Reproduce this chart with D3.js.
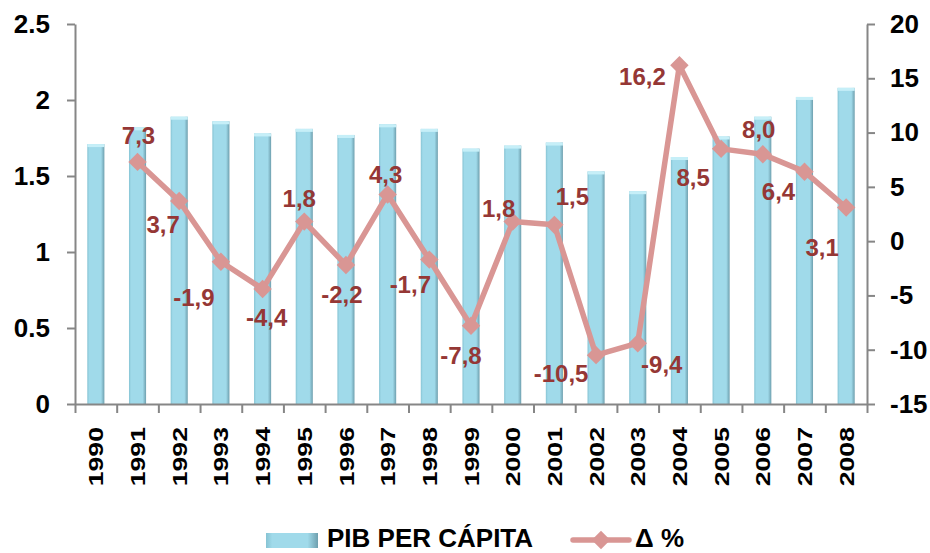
<!DOCTYPE html>
<html>
<head>
<meta charset="utf-8">
<script src="https://cdn.jsdelivr.net/npm/d3@7"></script>
<style>
  body { margin: 0; background: #fff; }
  text { font-family: "Liberation Sans", Arial, sans-serif; font-weight: bold; }
</style>
</head>
<body>
<div id="container"></div>
<script>
const years = ["1990","1991","1992","1993","1994","1995","1996","1997","1998","1999",
               "2000","2001","2002","2003","2004","2005","2006","2007","2008"]
const pibPerCapita = [1.71,1.82,1.89,1.86,1.78,1.81,1.77,1.84,1.81,1.68,
                      1.70,1.72,1.53,1.40,1.625,1.76,1.89,2.02,2.08]
// variación anual (%), 1990 sin dato
const deltaPct = [null,7.3,3.7,-1.9,-4.4,1.8,-2.2,4.3,-1.7,-7.8,
                  1.8,1.5,-10.5,-9.4,16.2,8.5,8.0,6.4,3.1]
const leftTicks = [0,0.5,1,1.5,2,2.5]
const rightTicks = [-15,-10,-5,0,5,10,15,20]

// where each data label sits relative to its point
const labelOffsets = [null,[1,-27],[-16,23],[-27,36],[4,28],[-5,-23],[-4,29],[-2,-20],[-19,25],[-10,30],
                      [-14,-13],[18,-28],[-35,18],[24,21],[-37,11],[-28,29],[-4,-25],[-26,20],[-24,40]]

const width = 930
const height = 553
const marginLeft = 75
const marginRight = 63
const marginTop = 24
const bottomY = 404

const axisColor = "#868686"
const lineColor = "#D99694"
const labelColor = "#953735"

const hyphen = s => String(s).replace(/\u2212/g, "-")

const svg = d3.create("svg")
    .attr("width", width)
    .attr("height", height)

const defs = svg.append("defs")
const grad = defs.append("linearGradient").attr("id", "barGrad")
    .attr("x1", 0).attr("x2", 1).attr("y1", 0).attr("y2", 0)
grad.append("stop").attr("offset", "0%").attr("stop-color", "#86C3D3")
grad.append("stop").attr("offset", "12%").attr("stop-color", "#A0DAEA")
grad.append("stop").attr("offset", "80%").attr("stop-color", "#A0DAEA")
grad.append("stop").attr("offset", "100%").attr("stop-color", "#6E9FAE")

const x = d3.scaleBand()
    .domain(years)
    .range([marginLeft, width - marginRight])
const xEdge = d3.scaleLinear()
    .domain([0, years.length])
    .range([marginLeft, width - marginRight])

const yL = d3.scaleLinear().domain([0, 2.5]).range([bottomY, marginTop])
const yR = d3.scaleLinear().domain([-15, 20]).range([bottomY, marginTop])

const barW = x.bandwidth() * 0.41

// bars
const bars = svg.append("g")
bars.selectAll("rect.bar")
    .data(years)
    .enter().append("rect")
    .attr("class", "bar")
    .attr("x", d => x(d) + x.bandwidth() / 2 - barW / 2)
    .attr("y", (d, i) => yL(pibPerCapita[i]))
    .attr("width", barW)
    .attr("height", (d, i) => bottomY - yL(pibPerCapita[i]))
    .attr("fill", "url(#barGrad)")
bars.selectAll("rect.cap")
    .data(years)
    .enter().append("rect")
    .attr("class", "cap")
    .attr("x", d => x(d) + x.bandwidth() / 2 - barW / 2)
    .attr("y", (d, i) => yL(pibPerCapita[i]))
    .attr("width", barW)
    .attr("height", 3)
    .attr("fill", "#C6EFF8")

// axes
const styleAxis = g => {
    g.selectAll("path, line").attr("stroke", axisColor).attr("stroke-width", 2)
    g.selectAll("text").attr("fill", "#000").style("font-size", "26px")
}

svg.append("g")
    .attr("transform", `translate(${marginLeft},0)`)
    .call(d3.axisLeft(yL).tickValues(leftTicks).tickSize(8).tickSizeOuter(0).tickPadding(17).tickFormat(d => hyphen(d3.format("")(d))))
    .call(styleAxis)

svg.append("g")
    .attr("transform", `translate(${width - marginRight},0)`)
    .call(d3.axisRight(yR).tickValues(rightTicks).tickSize(8).tickSizeOuter(0).tickPadding(15).tickFormat(d => hyphen(d3.format("")(d))))
    .call(styleAxis)

svg.append("g")
    .attr("transform", `translate(0,${bottomY})`)
    .call(d3.axisBottom(xEdge).tickValues(d3.range(years.length + 1)).tickSize(9).tickSizeOuter(0).tickFormat(""))
    .call(styleAxis)

svg.append("g").selectAll("text")
    .data(years)
    .enter().append("text")
    .attr("transform", d => `translate(${x(d) + x.bandwidth() / 2},427) rotate(-90) scale(1.27,1)`)
    .attr("text-anchor", "end")
    .attr("dy", "0.36em")
    .style("font-size", "21px")
    .attr("fill", "#000")
    .text(d => d)

// line
const pts = years.map((d, i) => ({ year: d, v: deltaPct[i], off: labelOffsets[i] })).filter(p => p.v !== null)

const line = d3.line()
    .x(p => x(p.year) + x.bandwidth() / 2)
    .y(p => yR(p.v))

svg.append("path")
    .datum(pts)
    .attr("d", line)
    .attr("fill", "none")
    .attr("stroke", lineColor)
    .attr("stroke-width", 5.5)
    .attr("stroke-linejoin", "round")

svg.append("g").selectAll("path")
    .data(pts)
    .enter().append("path")
    .attr("transform", p => `translate(${x(p.year) + x.bandwidth() / 2},${yR(p.v)}) rotate(45)`)
    .attr("d", d3.symbol(d3.symbolSquare, 170))
    .attr("fill", lineColor)

svg.append("g").selectAll("text")
    .data(pts)
    .enter().append("text")
    .attr("x", p => x(p.year) + x.bandwidth() / 2 + p.off[0])
    .attr("y", p => yR(p.v) + p.off[1])
    .attr("dy", "0.36em")
    .attr("text-anchor", "middle")
    .attr("fill", labelColor)
    .style("font-size", "24px")
    .text(p => hyphen(d3.format(".1f")(p.v)).replace(".", ","))

// legend
const legend = svg.append("g")
legend.append("rect")
    .attr("x", 266).attr("y", 533).attr("width", 52).attr("height", 15)
    .attr("fill", "url(#barGrad)")
legend.append("text")
    .attr("x", 327).attr("y", 547)
    .style("font-size", "26px")
    .attr("fill", "#000")
    .text("PIB PER CÁPITA")
legend.append("line")
    .attr("x1", 573).attr("x2", 629).attr("y1", 540).attr("y2", 540)
    .attr("stroke", lineColor).attr("stroke-width", 5.5).attr("stroke-linecap", "round")
legend.append("path")
    .attr("transform", "translate(601,540) rotate(45)")
    .attr("d", d3.symbol(d3.symbolSquare, 170))
    .attr("fill", lineColor)
legend.append("text")
    .attr("x", 635).attr("y", 547)
    .style("font-size", "26px")
    .attr("fill", "#000")
    .text("Δ %")

document.querySelector("#container").appendChild(svg.node())
</script>
</body>
</html>
